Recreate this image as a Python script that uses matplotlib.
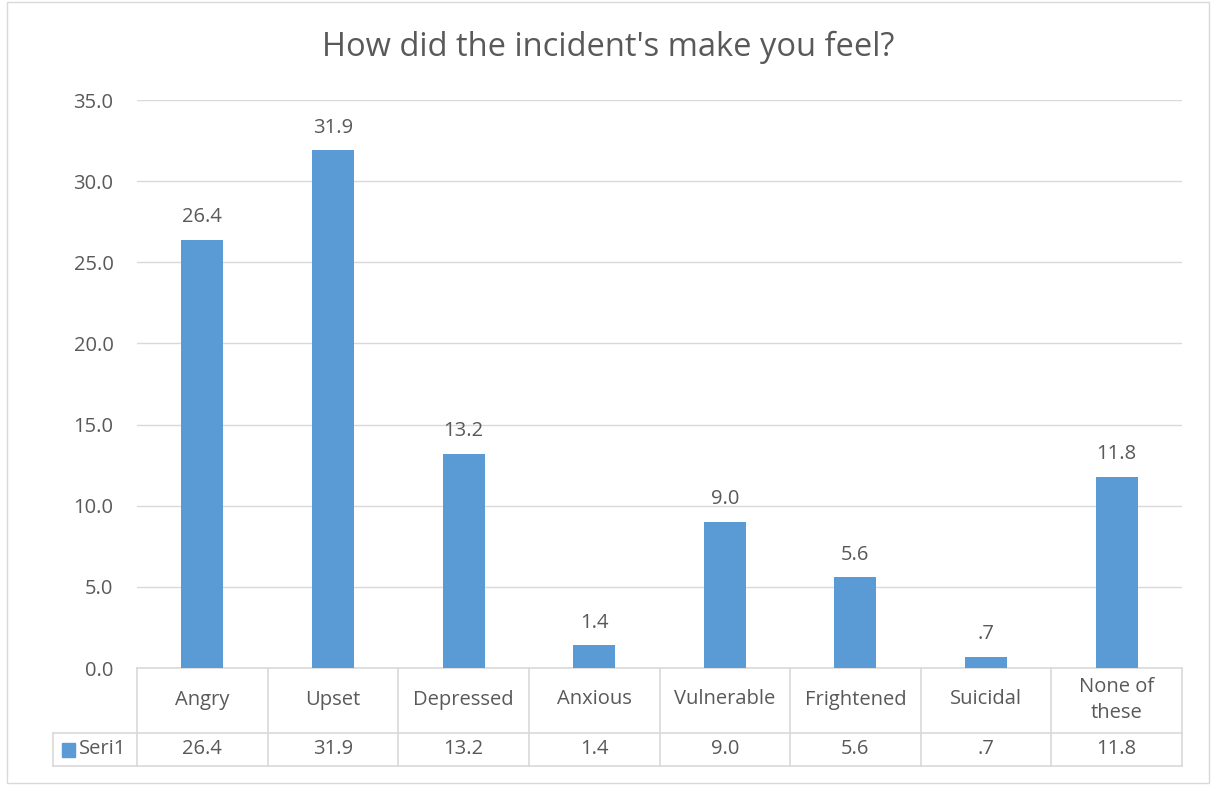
import matplotlib
matplotlib.use("Agg")
import matplotlib.pyplot as plt
from matplotlib.patches import Rectangle

categories = ["Angry", "Upset", "Depressed", "Anxious", "Vulnerable", "Frightened", "Suicidal", "None of\nthese"]
values = [26.4, 31.9, 13.2, 1.4, 9.0, 5.6, 0.7, 11.8]
series_name = "Seri1"
title = "How did the incident's make you feel?"
yticks = [0, 5, 10, 15, 20, 25, 30, 35]

def fmt(v):
    s = f"{v:.1f}"
    if s.startswith("0."):
        s = s[1:]
    return s

TXT = "#595959"
BAR = "#5B9BD5"
GRID = "#D9D9D9"
FONT = "Open Sans"
FS = 14.5
plt.rcParams["font.family"] = [FONT, "DejaVu Sans"]

W, H = 1211, 785
fig = plt.figure(figsize=(W / 100, H / 100), dpi=100)

# outer border
fig.add_artist(Rectangle((7 / W, 1 - 783 / H), (1209 - 7) / W, (783 - 2) / H,
                         transform=fig.transFigure, fill=False, edgecolor="#D9D9D9", lw=1))

L, R, T, B = 137, 1182, 100, 668
ax = fig.add_axes([L / W, 1 - B / H, (R - L) / W, (B - T) / H])
n = len(categories)
x = list(range(n))
cw = (R - L) / n
ax.bar(x, values, width=42 / cw, color=BAR, zorder=3)
ax.set_xlim(-0.5, n - 0.5)
ax.set_ylim(0, 35)
ax.set_yticks(yticks)
ax.set_yticklabels([f"{t:.1f}" for t in yticks], color=TXT, fontsize=FS)
ax.tick_params(axis="y", length=0, pad=17)
ax.set_xticks([])
for s in ax.spines.values():
    s.set_visible(False)
ax.grid(axis="y", color=GRID, lw=1, zorder=0)
for xi, v in zip(x, values):
    ax.annotate(fmt(v), (xi, v), xytext=(0, 9), textcoords="offset points",
                ha="center", va="bottom", color=TXT, fontsize=FS)

fig.text(608 / W, 1 - 47 / H, title, ha="center", va="center", color=TXT, fontsize=23.5)

# data table
tr = ax.get_xaxis_transform()
ph = B - T
y0 = 0.0
y1 = -(733 - B) / ph
y2 = -(766 - B) / ph
xl = -0.5 - (L - 53) / cw
lc = "#D9D9D9"
kw = dict(transform=tr, clip_on=False, color=lc, lw=1.2)
ax.plot([-0.5, n - 0.5], [y0, y0], **kw)
ax.plot([xl, n - 0.5], [y1, y1], **kw)
ax.plot([xl, n - 0.5], [y2, y2], **kw)
for b in range(n + 1):
    ax.plot([b - 0.5, b - 0.5], [y0, y2], **kw)
ax.plot([xl, xl], [y1, y2], **kw)

for xi, c, v in zip(x, categories, values):
    ax.text(xi, (y0 + y1) / 2 + 1 / ph, c, transform=tr, ha="center", va="center",
            color=TXT, fontsize=FS, linespacing=1.4)
    ax.text(xi, (y1 + y2) / 2, fmt(v), transform=tr, ha="center", va="center",
            color=TXT, fontsize=FS)

# legend key in table
kx = xl + 9 / cw
ax.add_patch(Rectangle((kx, (y1 + y2) / 2 - 7 / ph), 13 / cw, 14 / ph,
                       transform=tr, clip_on=False, color=BAR))
ax.text(kx + 17 / cw, (y1 + y2) / 2, series_name, transform=tr,
        ha="left", va="center", color=TXT, fontsize=FS)

fig.savefig("out.png", dpi=100)
